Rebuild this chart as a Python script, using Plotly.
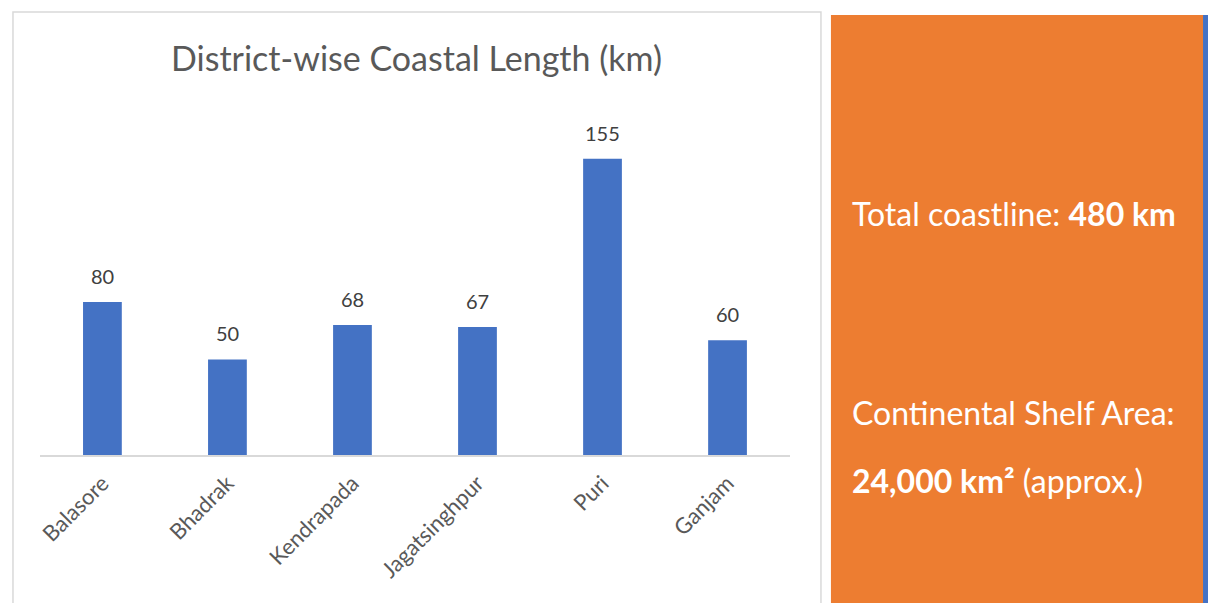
import plotly.graph_objects as go

# District coastline lengths (km)
districts = ["Balasore", "Bhadrak", "Kendrapada", "Jagatsinghpur", "Puri", "Ganjam"]
coast_km = [80, 50, 68, 67, 155, 60]

title_text = "District-wise Coastal Length (km)"
panel_line1 = "Total coastline: <b>480 km</b>"
panel_line2 = "Continental Shelf Area:"
panel_line3 = "<b>24,000 km²</b> (approx.)"

W, H = 1208, 603
BAR_BLUE = "#4472C4"
ORANGE = "#ED7D31"
FONT = "Lato"


def px_x(x):
    return x / W


def px_y(y):
    return 1 - y / H


fig = go.Figure()
fig.add_trace(go.Bar(
    x=districts,
    y=coast_km,
    marker=dict(color=BAR_BLUE, line=dict(width=0)),
    width=0.31,
    hoverinfo="x+y",
))

annotations = []
# value labels above each bar
for d, v in zip(districts, coast_km):
    annotations.append(dict(
        x=d, y=v, xref="x", yref="y", text=str(v), showarrow=False,
        yshift=26, font=dict(family=FONT, size=20, color="#404040"),
    ))

annotations.append(dict(
    x=px_x(415), y=px_y(57), xref="paper", yref="paper", text=title_text,
    showarrow=False, xanchor="center", yanchor="middle",
    font=dict(family=FONT, size=34, color="#595959"),
))

for txt, y in [(panel_line1, 213), (panel_line2, 412), (panel_line3, 480)]:
    annotations.append(dict(
        x=px_x(849), y=px_y(y), xref="paper", yref="paper", text=txt,
        showarrow=False, xanchor="left", yanchor="middle",
        font=dict(family=FONT, size=32, color="#FFFFFF"),
    ))

shapes = [
    # chart frame
    dict(type="rect", xref="paper", yref="paper",
         x0=px_x(10), x1=px_x(820), y0=px_y(610), y1=px_y(12),
         line=dict(color="#D9D9D9", width=1.5), fillcolor="rgba(0,0,0,0)", layer="below"),
    # orange info panel
    dict(type="rect", xref="paper", yref="paper",
         x0=px_x(830), x1=px_x(1203), y0=px_y(610), y1=px_y(15),
         line=dict(width=0), fillcolor=ORANGE, layer="below"),
    # blue edge strip
    dict(type="rect", xref="paper", yref="paper",
         x0=px_x(1203), x1=px_x(1208), y0=px_y(610), y1=px_y(15),
         line=dict(width=0), fillcolor=BAR_BLUE, layer="below"),
]

fig.update_layout(
    width=W, height=H,
    margin=dict(l=0, r=0, t=0, b=0),
    paper_bgcolor="white", plot_bgcolor="rgba(0,0,0,0)",
    showlegend=False,
    annotations=annotations,
    shapes=shapes,
    xaxis=dict(
        domain=[px_x(37), px_x(789)],
        showline=True, linecolor="#D9D9D9", linewidth=1.5,
        showgrid=False, ticks="", tickangle=-45,
        ticklabelstandoff=5,
        tickfont=dict(family=FONT, size=22, color="#595959"),
    ),
    yaxis=dict(
        domain=[px_y(455), px_y(111)],
        range=[0, 180], visible=False, showgrid=False, zeroline=False,
    ),
)

fig.write_html("out.html")
